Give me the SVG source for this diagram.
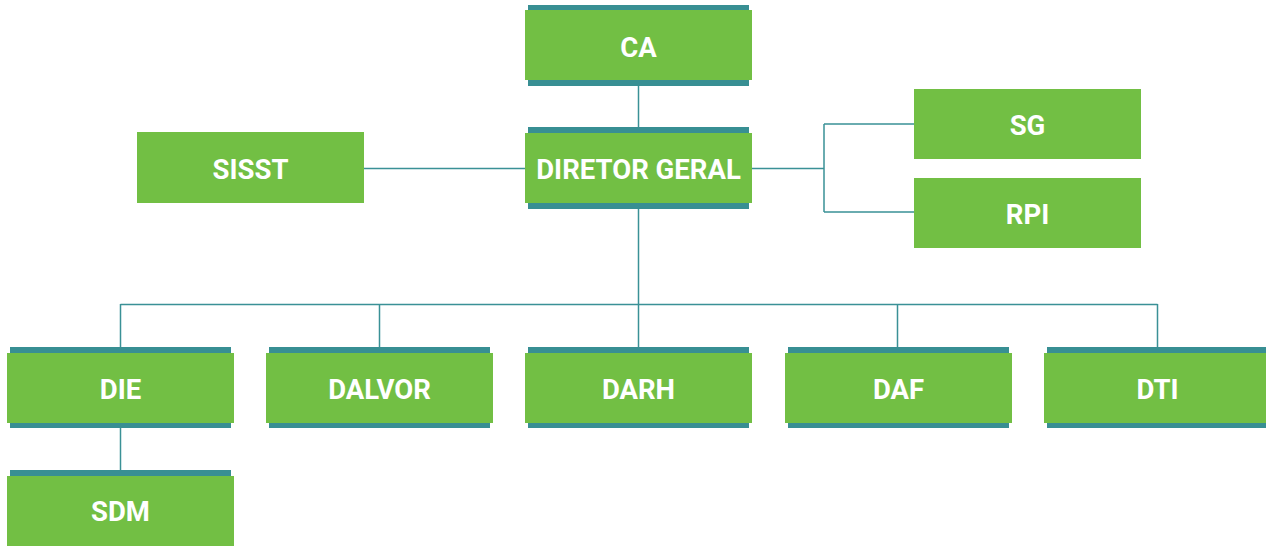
<svg xmlns="http://www.w3.org/2000/svg" width="1266" height="546" viewBox="0 0 1266 546">
<style>
.box{fill:#72bf44}
.bar{fill:#388f93}
.lbl{fill:#ffffff;font-family:Roboto,"Liberation Sans",sans-serif;font-weight:bold;font-size:27.5px;text-anchor:middle}
.ln{fill:none;stroke:#3a9196;stroke-width:1.5}
</style>
<rect width="1266" height="546" fill="#ffffff"/>
<g id="connectors">
<path class="ln" d="M638.5,86 V127"/>
<path class="ln" d="M364,168.5 H525"/>
<path class="ln" d="M752,168.5 H824 M824,124 V212 M824,124 H914 M824,212 H914"/>
<path class="ln" d="M638.5,209 V347"/>
<path class="ln" d="M120.5,304.5 H1157.5 M120.5,304 V347 M379.5,304 V347 M897.5,304 V347 M1157.5,304 V347"/>
<path class="ln" d="M120.5,428 V470"/>
</g>
<g id="ca">
<rect class="bar" x="528" y="5" width="221" height="81"/>
<rect class="box" x="525" y="10" width="227" height="70"/>
<text class="lbl" x="638.5" y="56.5">CA</text>
</g>
<g id="diretor-geral">
<rect class="bar" x="528" y="127" width="221" height="82"/>
<rect class="box" x="525" y="133" width="227" height="70"/>
<text class="lbl" x="638.5" y="178.5">DIRETOR GERAL</text>
</g>
<g id="sisst">
<rect class="box" x="137" y="132" width="227" height="71"/>
<text class="lbl" x="250.5" y="178.5">SISST</text>
</g>
<g id="sg">
<rect class="box" x="914" y="89" width="227" height="70"/>
<text class="lbl" x="1027.5" y="134.5">SG</text>
</g>
<g id="rpi">
<rect class="box" x="914" y="178" width="227" height="70"/>
<text class="lbl" x="1027.5" y="223.5">RPI</text>
</g>
<g id="die">
<rect class="bar" x="10" y="347" width="221" height="81"/>
<rect class="box" x="7" y="353" width="227" height="70"/>
<text class="lbl" x="120.5" y="398.5">DIE</text>
</g>
<g id="dalvor">
<rect class="bar" x="269" y="347" width="221" height="81"/>
<rect class="box" x="266" y="353" width="227" height="70"/>
<text class="lbl" x="379.5" y="398.5">DALVOR</text>
</g>
<g id="darh">
<rect class="bar" x="528" y="347" width="221" height="81"/>
<rect class="box" x="525" y="353" width="227" height="70"/>
<text class="lbl" x="638.5" y="398.5">DARH</text>
</g>
<g id="daf">
<rect class="bar" x="788" y="347" width="221" height="81"/>
<rect class="box" x="785" y="353" width="227" height="70"/>
<text class="lbl" x="898.5" y="398.5">DAF</text>
</g>
<g id="dti">
<rect class="bar" x="1047" y="347" width="221" height="81"/>
<rect class="box" x="1044" y="353" width="227" height="70"/>
<text class="lbl" x="1157.5" y="398.5">DTI</text>
</g>
<g id="sdm">
<rect class="bar" x="10" y="470" width="221" height="10"/>
<rect class="box" x="7" y="476" width="227" height="70"/>
<text class="lbl" x="120.5" y="520.5">SDM</text>
</g>
</svg>
